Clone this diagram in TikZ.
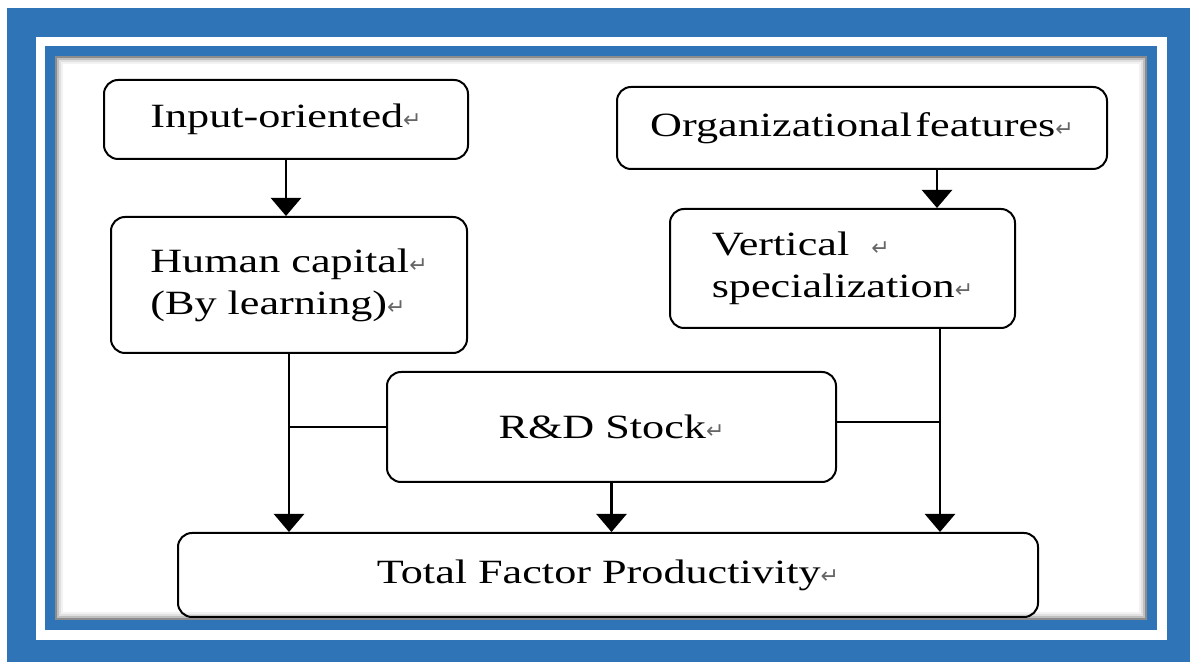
\documentclass[tikz,border=0pt]{standalone}
\usepackage{fontspec}
\setmainfont[FakeStretch=1.3]{Liberation Serif}
\newfontfamily\markfont{DejaVu Sans}
\usepackage{xcolor}
\usepackage{tikz}
\usetikzlibrary{arrows.meta}
\definecolor{frameblue}{RGB}{46,116,182}
\newcommand{\ret}{{\markfont\fontsize{11}{11}\selectfont\textcolor{black!60}{↵}}}

\begin{document}
\begin{tikzpicture}[x=0.5pt,y=-0.5pt,
    box/.style={draw,line width=1pt,rounded corners=7pt,inner sep=0pt,font=\fontsize{17}{21}\selectfont},
    arr/.style={line width=1.2pt,-{Triangle[width=15pt,length=9pt]}},
    link/.style={line width=1.2pt}]
    \useasboundingbox (0,0) rectangle (1190,662);
    % frame
    \fill[frameblue] (7,8) rectangle (1190,662);
    \fill[white] (36,37) rectangle (1167,640);
    \fill[frameblue] (45,46) rectangle (1157,630);
    \fill[white] (55,56) rectangle (1147,620);
    \foreach \i/\c in {1/45,3/25,5/12,7/5}
        \draw[black!\c,line width=1pt] (55+\i,56+\i) rectangle (1147-\i,620-\i);
    % boxes
    \node[box,minimum width=182pt,minimum height=39.5pt] (inp) at (286,119.5) {Input-oriented\ret};
    \node[box,minimum width=245pt,minimum height=41pt] (org) at (862,128) {Organizational\hspace{0.1em}features\ret};
    \node[box,minimum width=178pt,minimum height=68pt,align=left] (hum) at (289,285) {Human capital\ret\\(By learning)\ret};
    \node[box,minimum width=172.5pt,minimum height=59.5pt,align=left] (vert) at (842.5,268.5) {Vertical\ \ \ret\\specialization\ret};
    \node[box,minimum width=224.5pt,minimum height=55pt] (rd) at (611.5,427) {R\&D Stock\ret};
    \node[box,minimum width=430pt,minimum height=42pt] (tfp) at (608,575) {Total Factor Productivity\ret};
    % connectors
    \coordinate (orgx) at (937,0);
    \coordinate (vertx) at (940,0);
    \draw[arr] (inp.south) -- (inp.south |- hum.north);
    \draw[arr] (org.south -| orgx) -- (vert.north -| orgx);
    \draw[arr] (hum.south) -- (hum.south |- tfp.north);
    \draw[arr] (rd.south) -- (rd.south |- tfp.north);
    \draw[arr] (vert.south -| vertx) -- (tfp.north -| vertx);
    \draw[link] (rd.west) -- (rd.west -| hum.south);
    \draw[link] ([yshift=2.5pt]rd.east) -- ([yshift=2.5pt]rd.east -| vertx);
\end{tikzpicture}
\end{document}
